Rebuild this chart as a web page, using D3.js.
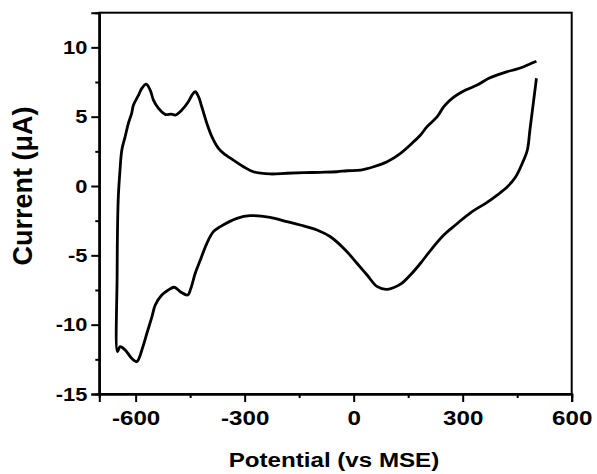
<!DOCTYPE html>
<html><head><meta charset="utf-8">
<script src="https://cdn.jsdelivr.net/npm/d3@7"></script>
<style>body{margin:0;background:#fff}svg{display:block}text{font-family:"Liberation Sans",Arial,sans-serif;font-weight:bold;fill:#000}</style>
</head><body>
<script>
// CV data: potential (mV vs MSE) and current (µA)
const potential = [503,485,478,464,446,423,395,363,326,280,248,216,184,156,129,92,65,37,9,-23,-64,-101,-147,-184,-230,-285,-321,-367,-386,-404,-422,-436,-448,-457,-477,-494,-510,-528,-546,-555,-569,-580,-597,-611,-629,-643,-650,-651,-648,-643,-638,-629,-620,-611,-606,-592,-583,-571,-560,-551,-537,-519,-502,-491,-473,-455,-445,-436,-427,-418,-404,-390,-372,-358,-331,-303,-276,-230,-184,-138,-92,-46,-18,19,55,92,129,165,184,202,230,248,271,308,340,372,400,423,446,468,485,503];
const current   = [7.77,4.04,2.6,1.64,0.67,-0.05,-0.65,-1.25,-1.85,-2.81,-3.53,-4.49,-5.57,-6.42,-7.08,-7.45,-7.26,-6.42,-5.57,-4.61,-3.66,-3.17,-2.81,-2.57,-2.26,-2.14,-2.33,-2.93,-3.29,-4.13,-5.34,-6.29,-7.38,-7.86,-7.62,-7.3,-7.5,-7.86,-8.58,-9.42,-10.62,-11.59,-12.67,-12.42,-11.82,-11.59,-11.95,-6.5,-1.0,1.15,2.6,3.55,4.52,5.24,5.84,6.56,7.04,7.35,6.92,6.2,5.6,5.17,5.19,5.12,5.48,6.08,6.56,6.8,6.44,5.72,4.52,3.55,2.72,2.36,1.87,1.39,1.03,0.87,0.92,0.96,0.99,1.03,1.1,1.15,1.39,1.75,2.36,3.19,3.68,4.28,5.0,5.72,6.32,6.92,7.28,7.77,8.05,8.25,8.41,8.6,8.8,9.0];
const xTicks = [-600,-300,0,300,600];
const xMinor = [-450,-150,150,450];
const yTicks = [-15,-10,-5,0,5,10];
const yMinor = [-12.5,-7.5,-2.5,2.5,7.5];
const xTitle = "Potential (vs MSE)";
const yTitle = "Current (\u03bcA)";

const W=597,H=474;
const m={left:99.3,right:571.7,top:12.7,bottom:394};
const SX=1.15; // horizontal stretch of the reference's lettering
const svg=d3.select("body").append("svg").attr("width",W).attr("height",H);
const x=d3.scaleLinear().domain([-700,600]).range([m.left,m.right]);
const y=d3.scaleLinear().domain([-15,12.5]).range([m.bottom,m.top]);

svg.append("rect").attr("x",m.left).attr("y",m.top).attr("width",m.right-m.left).attr("height",m.bottom-m.top)
  .attr("fill","none").attr("stroke","#000").attr("stroke-width",2);

const fmt=d=>String(d);
const gx=svg.append("g").attr("transform",`translate(0,${m.bottom})`)
  .call(d3.axisBottom(x).tickValues(xTicks).tickSize(8).tickPadding(8).tickFormat(fmt));
const gxm=svg.append("g").attr("transform",`translate(0,${m.bottom})`)
  .call(d3.axisBottom(x).tickValues(xMinor).tickSize(4).tickFormat(""));
const gy=svg.append("g").attr("transform",`translate(${m.left},0)`)
  .call(d3.axisLeft(y).tickValues(yTicks).tickSize(8).tickPadding(4).tickFormat(fmt));
const gym=svg.append("g").attr("transform",`translate(${m.left},0)`)
  .call(d3.axisLeft(y).tickValues(yMinor).tickSize(4).tickFormat(""));
[gx,gxm,gy,gym].forEach(g=>{g.select(".domain").attr("stroke-width",2);g.selectAll(".tick line").attr("stroke-width",2);});
gx.selectAll("text").style("font-size","21px").style("font-family","Liberation Sans, Arial, sans-serif").style("font-weight","bold")
  .attr("transform",`scale(${SX},1)`).attr("x",0);
gy.selectAll("text").style("font-size","19px").style("font-family","Liberation Sans, Arial, sans-serif").style("font-weight","bold")
  .each(function(){const t=d3.select(this);const xx=+t.attr("x");t.attr("x",xx/SX).attr("transform",`scale(${SX},1)`);});

const pts=potential.map((p,i)=>[p,current[i]]);
svg.append("path").datum(pts)
  .attr("d",d3.line().x(d=>x(d[0])).y(d=>y(d[1])).curve(d3.curveCatmullRom.alpha(0.5)))
  .attr("fill","none").attr("stroke","#000").attr("stroke-width",2.8).attr("stroke-linejoin","round");

svg.append("text").attr("transform",`translate(334,467) scale(${SX},1)`).attr("text-anchor","middle").style("font-size","21px").text(xTitle);
svg.append("text").attr("transform",`translate(32,186) rotate(-90)`).attr("text-anchor","middle").style("font-size","27px").text(yTitle);
</script>
</body></html>
